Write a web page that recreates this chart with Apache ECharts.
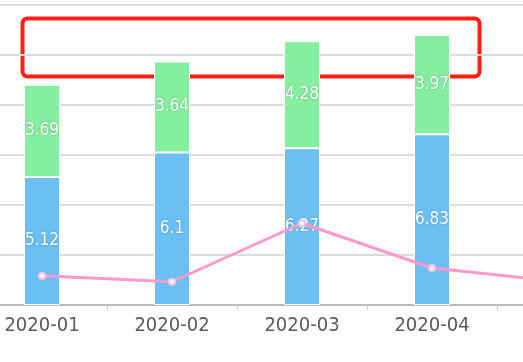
<!DOCTYPE html>
<html>
<head>
<meta charset="utf-8">
<script src="https://cdn.jsdelivr.net/npm/echarts@6/dist/echarts.min.js"></script>
<style>html,body{margin:0;padding:0;background:#fff}#c{width:523px;height:362px}</style>
</head>
<body>
<div id="c"></div>
<script>
var categories = ['2020-01', '2020-02', '2020-03', '2020-04', '2020-05'];
var blueValues = [5.12, 6.1, 6.27, 6.83, 6.5];
var greenValues = [3.69, 3.64, 4.28, 3.97, 4.0];
var lineValues = [1.17, 0.93, 3.27, 1.48, 0.92];

var font = '"DejaVu Sans Condensed", "DejaVu Sans", sans-serif';
var barLabel = {
  show: true, position: 'inside', color: '#fff', fontSize: 17, fontFamily: font,
  textShadowColor: 'rgba(0,0,0,0.3)', textShadowBlur: 2
};
var chart = echarts.init(document.getElementById('c'));
chart.setOption({
  animation: false,
  grid: { left: -23, width: 650, top: 5, bottom: 57, outerBoundsMode: 'none', containLabel: false },
  xAxis: {
    type: 'category', data: categories,
    axisLine: { lineStyle: { color: '#bbb', width: 2 } },
    axisTick: { show: true, length: 5, lineStyle: { color: '#ccc' } },
    axisLabel: { color: '#5a5a5a', fontSize: 20, fontFamily: font, margin: 11 }
  },
  yAxis: {
    type: 'value', min: 0, max: 12, interval: 2,
    axisLabel: { show: false },
    axisLine: { show: false }, axisTick: { show: false },
    splitLine: { lineStyle: { color: '#dcdcdc', width: 2 } }
  },
  series: [
    { type: 'bar', stack: 's', data: blueValues, barWidth: 36,
      itemStyle: { color: '#6bbff3', borderColor: '#fff', borderWidth: 1 },
      label: barLabel, z: 2 },
    { type: 'bar', stack: 's', data: greenValues, barWidth: 36,
      itemStyle: { color: '#85efa0', borderColor: '#fff', borderWidth: 1 },
      label: barLabel, z: 2 },
    { type: 'line', data: lineValues, symbol: 'emptyCircle', symbolSize: 6,
      lineStyle: { color: '#ff99cc', width: 3 },
      itemStyle: { color: '#ffc4e0', borderColor: '#ff99cc', borderWidth: 2 }, z: 2 }
  ],
  graphic: [{
    type: 'rect', left: 20, top: 16,
    shape: { width: 457, height: 58, r: 5 },
    style: { fill: 'none', stroke: '#ff2015', lineWidth: 4 }
  }]
});
</script>
</body>
</html>
